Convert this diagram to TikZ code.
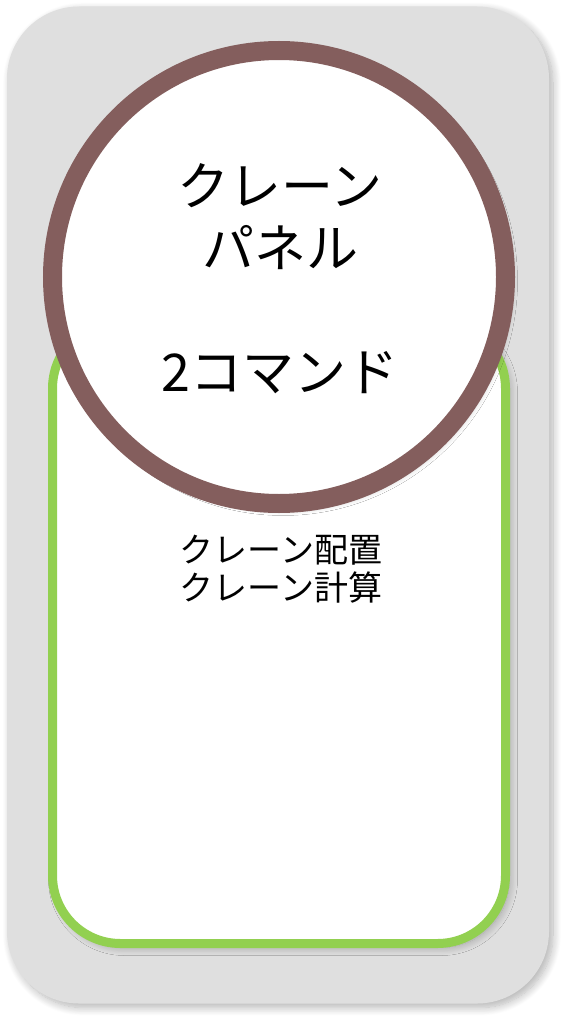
\documentclass[tikz,border=0pt]{standalone}
\usepackage{fontspec}
\setmainfont{Noto Sans CJK JP}
\usepackage{tikz}
\usetikzlibrary{positioning}
\usetikzlibrary{shadows.blur}
\definecolor{panelgray}{HTML}{DFDFDF}
\definecolor{listgreen}{HTML}{92D050}
\definecolor{cmdbrown}{HTML}{845E5D}
\tikzstyle{softshadow} = [blur shadow={shadow xshift=4pt, shadow yshift=-4pt, shadow blur radius=8pt, shadow blur steps=12, shadow opacity=30}]
\tikzstyle{panel} = [rectangle, rounded corners=72pt, fill=panelgray, minimum width=542pt, minimum height=997pt, softshadow]
\tikzstyle{listbox} = [rectangle, rounded corners=68pt, draw=listgreen, line width=9pt, fill=white, minimum width=453pt, minimum height=623pt, softshadow]
\tikzstyle{cmdcircle} = [circle, draw=cmdbrown, line width=19pt, fill=white, minimum size=453pt, inner sep=0pt, align=center, softshadow]

\begin{document}
\begin{tikzpicture}[x=1pt,y=-1pt]
\useasboundingbox (0,0) rectangle (570,1024);
\node[panel] (panel) at (278,505) {};
\node[listbox] (list) at (279,632) {};
\node[cmdcircle] (cmd) at (279,277) {};
\node[align=center, font=\fontsize{52pt}{62pt}\selectfont] (cmdtext) at (280,279) {クレーン\\パネル\\\mbox{}\\2コマンド};
\node[align=center, font=\fontsize{34pt}{38pt}\selectfont] (items) at (281,569) {クレーン配置\\クレーン計算};
\end{tikzpicture}
\end{document}
